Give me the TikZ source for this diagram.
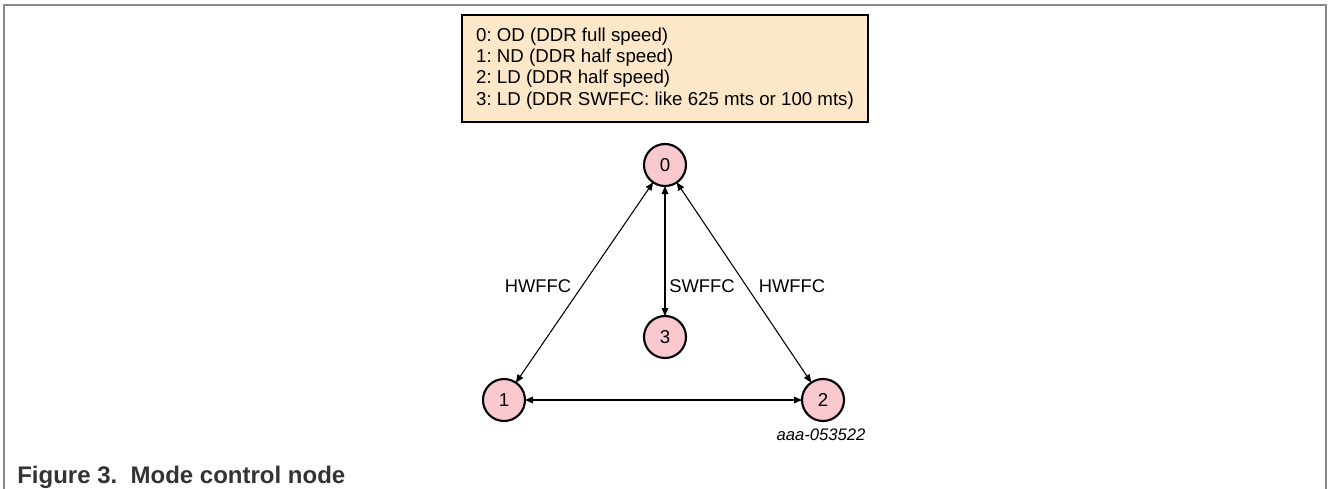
\documentclass[tikz,border=0pt]{standalone}
\usepackage{fontspec}
\setmainfont{Liberation Sans}
\usetikzlibrary{arrows.meta}
\frenchspacing
\definecolor{legendfill}{HTML}{FCE8C8}
\definecolor{statefill}{HTML}{F9C9CF}
\definecolor{framegray}{HTML}{8A8A8A}
\definecolor{captiongray}{HTML}{333333}
\tikzset{
  state/.style={circle, draw=black, line width=1.6pt, fill=statefill,
    minimum size=31.5pt, inner sep=0pt, outer sep=0pt, font=\fontsize{14}{16}\selectfont},
  legend/.style={rectangle, draw=black, line width=1.6pt, fill=legendfill,
    minimum width=304.5pt, minimum height=80.25pt,
    align=left, font=\fontsize{14}{16}\selectfont},
  link/.style={line width=0.8pt, {Triangle[length=6pt,width=5pt]}-{Triangle[length=6pt,width=5pt]}},
  tag/.style={font=\fontsize{13.8}{16}\selectfont, inner sep=0pt},
  frame/.style={draw=framegray, line width=1.3pt}
}
\begin{document}
\begin{tikzpicture}[x=0.75pt,y=-0.75pt]
  \useasboundingbox (0,0) rectangle (1328,489);
  % page frame
  \draw[frame] (4,489) -- (4,5) -- (1326,5) -- (1326,489);

  % legend of the modes
  \node[legend] (legend) at (665,68.5) {0: OD (DDR full speed)\\
    1: ND (DDR half speed)\\
    2: LD (DDR half speed)\\
    3: LD (DDR SWFFC: like 625 mts or 100 mts)};

  % mode states
  \node[state] (s0) at (665,165) {0};
  \node[state] (s1) at (504,400) {1};
  \node[state] (s2) at (823,400) {2};
  \node[state] (s3) at (665,337) {3};

  % transitions
  \draw[link] (s0) -- (s1);
  \draw[link] (s0) -- (s2);
  \draw[link] (s0) -- (s3);
  \draw[link] (s1) -- (s2);

  % transition labels
  \node[tag] (l01) at (538,286) {HWFFC};
  \node[tag] (l03) at (702,286) {SWFFC};
  \node[tag] (l02) at (792,286) {HWFFC};

  % figure id
  \node[tag, font=\fontsize{12.5}{14}\selectfont\itshape] (fid) at (821,435) {aaa-053522};

  % caption
  \node[anchor=base west, inner sep=0pt, text=captiongray,
        font=\fontsize{18}{20}\selectfont\bfseries] (caption) at (17,483)
        {Figure 3.\ \ Mode control node};
\end{tikzpicture}
\end{document}
